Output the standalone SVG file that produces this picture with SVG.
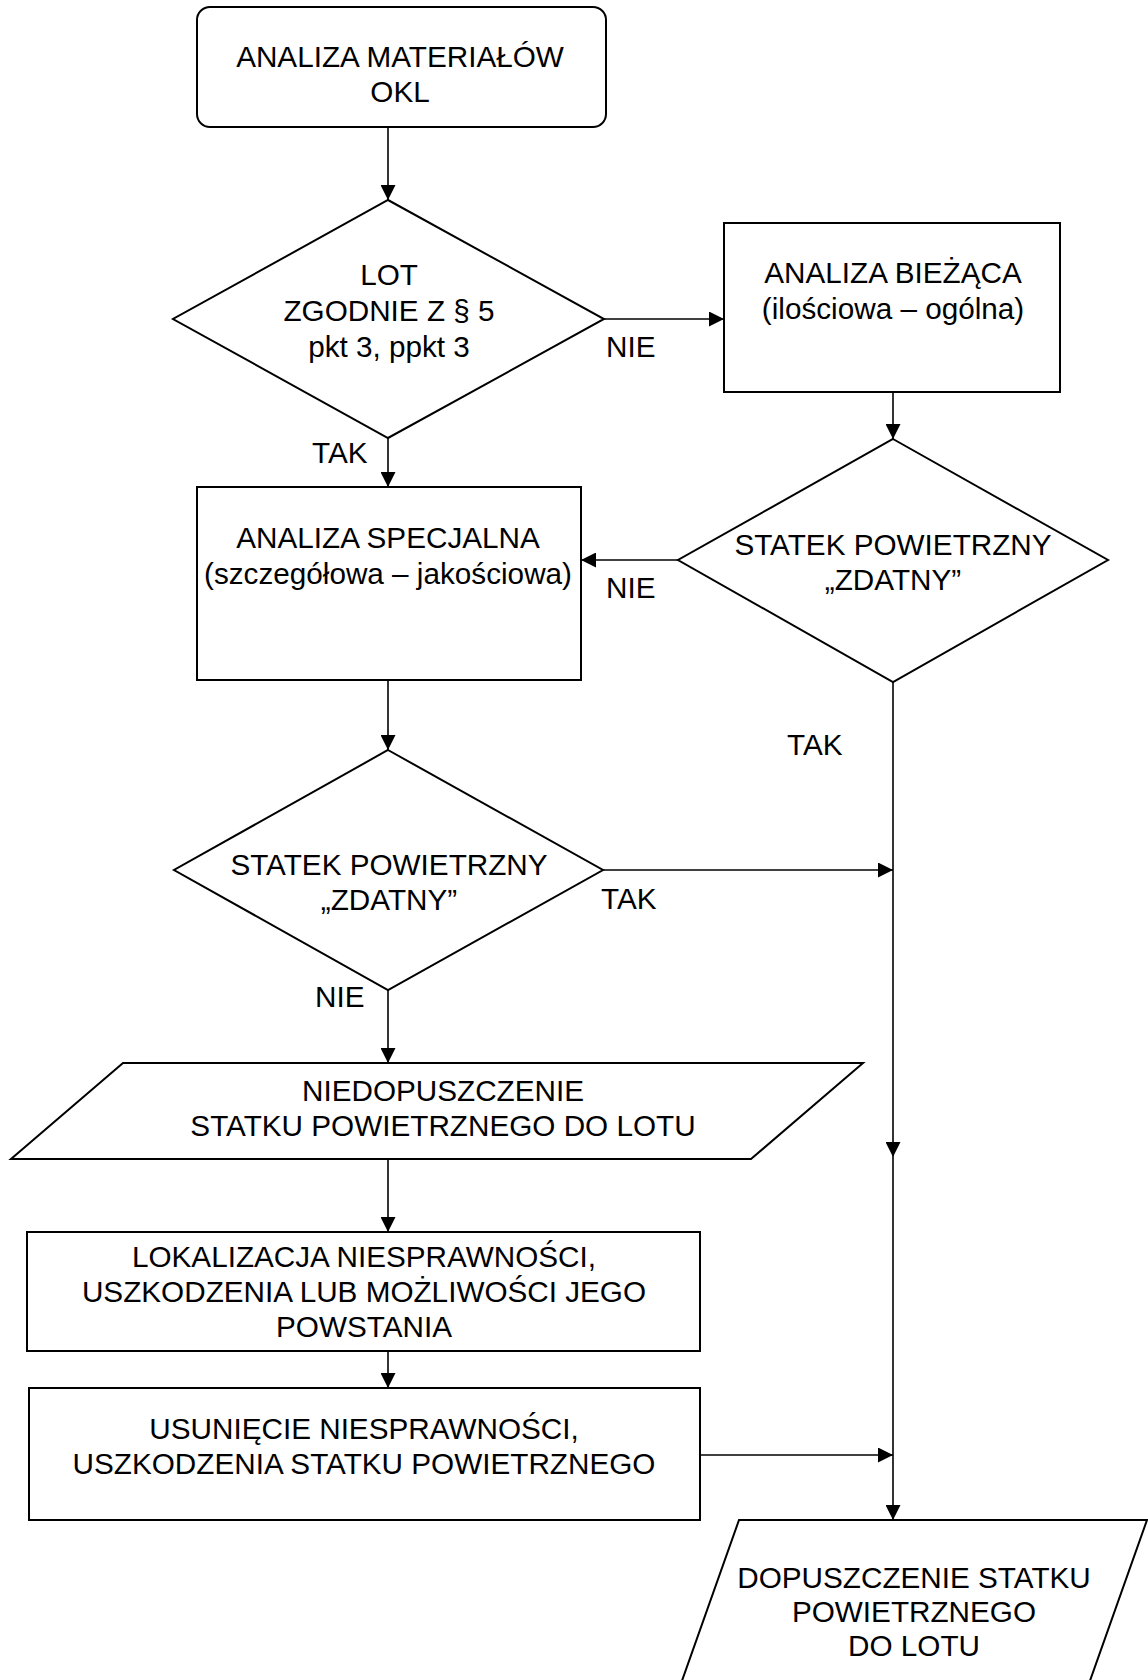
<svg xmlns="http://www.w3.org/2000/svg" width="1148" height="1680" viewBox="0 0 1148 1680">
<style>
  .shape { fill: #ffffff; stroke: #000000; stroke-width: 2; }
  .conn { fill: none; stroke: #000000; stroke-width: 1.6; }
  text { font-family: "Liberation Sans", Arial, sans-serif; font-size: 29.7px; fill: #000000; }
  .c { text-anchor: middle; }
</style>
<defs>
  <marker id="arr" markerWidth="15" markerHeight="15" refX="15" refY="7.5" orient="auto" markerUnits="userSpaceOnUse">
    <path d="M0,0 L15,7.5 L0,15 Z" fill="#000000"/>
  </marker>
</defs>
<rect width="1148" height="1680" fill="#ffffff"/>

<g id="connectors">
  <line class="conn" x1="388" y1="127" x2="388" y2="200" marker-end="url(#arr)"/>
  <line class="conn" x1="604" y1="319" x2="724" y2="319" marker-end="url(#arr)"/>
  <line class="conn" x1="388" y1="438" x2="388" y2="487" marker-end="url(#arr)"/>
  <line class="conn" x1="893" y1="392" x2="893" y2="439" marker-end="url(#arr)"/>
  <line class="conn" x1="678" y1="560" x2="581" y2="560" marker-end="url(#arr)"/>
  <line class="conn" x1="388" y1="680" x2="388" y2="750" marker-end="url(#arr)"/>
  <line class="conn" x1="603" y1="870" x2="893" y2="870" marker-end="url(#arr)"/>
  <line class="conn" x1="388" y1="990" x2="388" y2="1063" marker-end="url(#arr)"/>
  <line class="conn" x1="388" y1="1159" x2="388" y2="1232" marker-end="url(#arr)"/>
  <line class="conn" x1="388" y1="1351" x2="388" y2="1388" marker-end="url(#arr)"/>
  <line class="conn" x1="700" y1="1455" x2="893" y2="1455" marker-end="url(#arr)"/>
  <line class="conn" x1="893" y1="682" x2="893" y2="1157" marker-end="url(#arr)"/>
  <line class="conn" x1="893" y1="1157" x2="893" y2="1520" marker-end="url(#arr)"/>
  <text x="312" y="463">TAK</text>
  <text x="606" y="357">NIE</text>
  <text x="606" y="598">NIE</text>
  <text x="787" y="755">TAK</text>
  <text x="601" y="909">TAK</text>
  <text x="315" y="1007">NIE</text>
</g>

<g id="start">
  <rect class="shape" x="197" y="7" width="409" height="120" rx="13" ry="13"/>
  <text class="c" x="400" y="67">ANALIZA MATERIAŁÓW</text>
  <text class="c" x="400" y="102">OKL</text>
</g>

<g id="decision-lot">
  <polygon class="shape" points="388,200 604,319 388,438 173,319"/>
  <text class="c" x="389" y="285">LOT</text>
  <text class="c" x="389" y="321">ZGODNIE Z § 5</text>
  <text class="c" x="389" y="357">pkt 3, ppkt 3</text>
</g>

<g id="analiza-biezaca">
  <rect class="shape" x="724" y="223" width="336" height="169"/>
  <text class="c" x="893" y="283">ANALIZA BIEŻĄCA</text>
  <text class="c" x="893" y="319">(ilościowa – ogólna)</text>
</g>

<g id="decision-zdatny-1">
  <polygon class="shape" points="893,439 1108,560 893,682 678,560"/>
  <text class="c" x="893" y="555">STATEK POWIETRZNY</text>
  <text class="c" x="893" y="590">„ZDATNY”</text>
</g>

<g id="analiza-specjalna">
  <rect class="shape" x="197" y="487" width="384" height="193"/>
  <text class="c" x="388" y="548">ANALIZA SPECJALNA</text>
  <text class="c" x="388" y="584">(szczegółowa – jakościowa)</text>
</g>

<g id="decision-zdatny-2">
  <polygon class="shape" points="388,750 603,870 388,990 174,870"/>
  <text class="c" x="389" y="875">STATEK POWIETRZNY</text>
  <text class="c" x="389" y="910">„ZDATNY”</text>
</g>

<g id="niedopuszczenie">
  <polygon class="shape" points="123,1063 863,1063 751,1159 11,1159"/>
  <text class="c" x="443" y="1101">NIEDOPUSZCZENIE</text>
  <text class="c" x="443" y="1136">STATKU POWIETRZNEGO DO LOTU</text>
</g>

<g id="lokalizacja">
  <rect class="shape" x="27" y="1232" width="673" height="119"/>
  <text class="c" x="364" y="1267">LOKALIZACJA NIESPRAWNOŚCI,</text>
  <text class="c" x="364" y="1302">USZKODZENIA LUB MOŻLIWOŚCI JEGO</text>
  <text class="c" x="364" y="1337">POWSTANIA</text>
</g>

<g id="usuniecie">
  <rect class="shape" x="29" y="1388" width="671" height="132"/>
  <text class="c" x="364" y="1439">USUNIĘCIE NIESPRAWNOŚCI,</text>
  <text class="c" x="364" y="1474">USZKODZENIA STATKU POWIETRZNEGO</text>
</g>

<g id="dopuszczenie">
  <polygon class="shape" points="739,1520 1147,1520 1086,1692 678,1692"/>
  <text class="c" x="914" y="1588">DOPUSZCZENIE STATKU</text>
  <text class="c" x="914" y="1622">POWIETRZNEGO</text>
  <text class="c" x="914" y="1656">DO LOTU</text>
</g>
</svg>
